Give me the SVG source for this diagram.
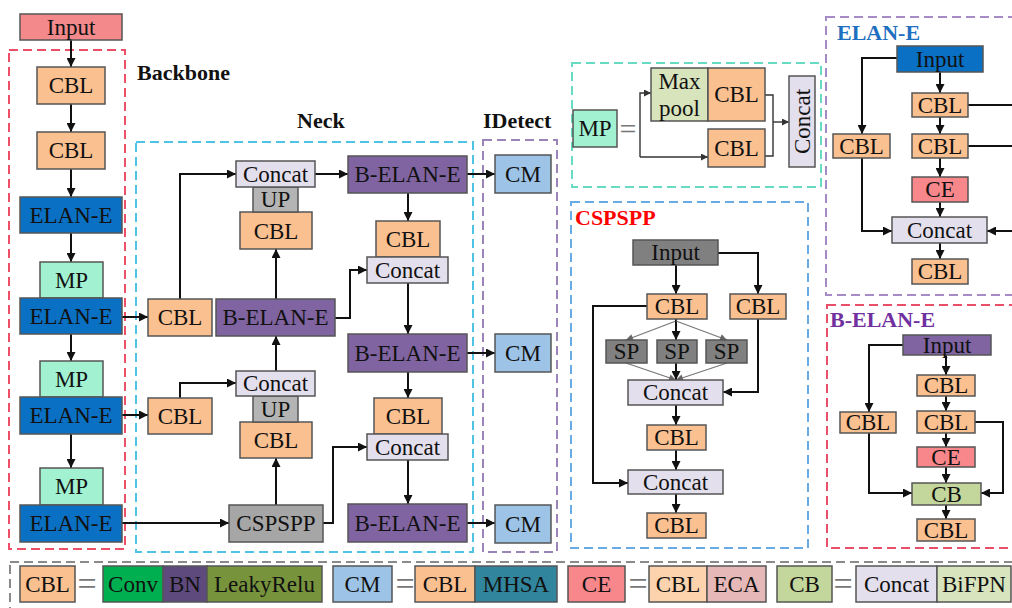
<svg xmlns="http://www.w3.org/2000/svg" width="1012" height="608" viewBox="0 0 1012 608">
<style>
text{font-family:"Liberation Serif","Times New Roman",serif;font-size:23px;fill:#111;text-anchor:middle;dominant-baseline:central}
.h{font-weight:bold;text-anchor:start;dominant-baseline:alphabetic;font-size:22px}
.n rect, #legend rect{stroke:#555;stroke-width:1.5}
.cbl{fill:#FAC090}.elan{fill:#0A70C4}.mp{fill:#A2F2D2}.in{fill:#F4898C}.bel{fill:#8064A2}
.cat{fill:#E4DFEC}.up{fill:#B4B4B4}.csp{fill:#A6A6A6}.cm{fill:#9DC3E6}.ce{fill:#F8878B}
.sp{fill:#808080}.cb{fill:#C3D69B}.mx{fill:#D8E4BC}
.box{fill:none;stroke-width:2;stroke-dasharray:9 5}
.c path{fill:none;stroke:#111;stroke-width:2}
.c .t{stroke-width:1.4;stroke:#333}
.c .g{stroke-width:1.2;stroke:#777}
.eq{fill:#777;font-size:34px}
</style>
<defs>
<marker id="a" viewBox="0 0 10 10" refX="10" refY="5" markerWidth="10" markerHeight="9" markerUnits="userSpaceOnUse" orient="auto"><path d="M0,0L10,5L0,10z" fill="#111"/></marker>
<marker id="s" viewBox="0 0 10 10" refX="10" refY="5" markerWidth="8" markerHeight="7" markerUnits="userSpaceOnUse" orient="auto"><path d="M0,0L10,5L0,10z" fill="#333"/></marker>
<marker id="g" viewBox="0 0 10 10" refX="10" refY="5" markerWidth="8" markerHeight="7" markerUnits="userSpaceOnUse" orient="auto"><path d="M0,0L10,5L0,10z" fill="#666"/></marker>
</defs>
<rect width="1012" height="608" fill="#fff"/>

<g id="frames">
<rect class="box" x="9" y="50" width="116" height="499" style="stroke:#EC4F66"/>
<rect class="box" x="136" y="142" width="337" height="410" style="stroke:#4EC3E3"/>
<rect class="box" x="483" y="140" width="74" height="412" style="stroke:#9B85B8"/>
<rect class="box" x="572" y="63" width="249" height="124" style="stroke:#66DBC2"/>
<rect class="box" x="571" y="202" width="237" height="346" style="stroke:#68AAE4"/>
<rect class="box" x="826" y="17" width="200" height="278" style="stroke:#A68BC6"/>
<rect class="box" x="827" y="305" width="200" height="243" style="stroke:#E8506A"/>
<rect class="box" x="10" y="562" width="1010" height="60" style="stroke:#8A8A8A"/>
</g>

<g id="labels">
<text class="h" x="137" y="80">Backbone</text>
<text class="h" x="297" y="128">Neck</text>
<text class="h" x="483" y="128">IDetect</text>
<text class="h" x="837" y="40" style="fill:#1F6FC0">ELAN-E</text>
<text class="h" x="575" y="225" style="fill:#FF0000">CSPSPP</text>
<text class="h" x="830" y="327" style="fill:#7030A0">B-ELAN-E</text>
</g>

<g id="connectors" class="c">
<path marker-end="url(#a)" d="M71,40V67"/>
<path marker-end="url(#a)" d="M71,104V132"/>
<path marker-end="url(#a)" d="M71,169V197"/>
<path marker-end="url(#a)" d="M71,233V262"/>
<path marker-end="url(#a)" d="M71,334V361"/>
<path marker-end="url(#a)" d="M71,434V468"/>
<path marker-end="url(#a)" d="M122,317H148"/>
<path marker-end="url(#a)" d="M122,415H148"/>
<path marker-end="url(#a)" d="M122,523H229"/>
<path marker-end="url(#a)" d="M180,299V174H236"/>
<path marker-end="url(#a)" d="M276,299V249"/>
<path marker-end="url(#a)" d="M315,174H348"/>
<path marker-end="url(#a)" d="M408,193V221"/>
<path marker-end="url(#a)" d="M335,318H350V270H367"/>
<path marker-end="url(#a)" d="M408,283V334"/>
<path marker-end="url(#a)" d="M408,372V398"/>
<path marker-end="url(#a)" d="M408,460V504"/>
<path marker-end="url(#a)" d="M180,398V383H236"/>
<path marker-end="url(#a)" d="M276,371V336"/>
<path marker-end="url(#a)" d="M276,505V458"/>
<path marker-end="url(#a)" d="M323,523H333V447H367"/>
<path marker-end="url(#a)" d="M467,174H495"/>
<path marker-end="url(#a)" d="M467,353H495"/>
<path marker-end="url(#a)" d="M467,523H495"/>
<path class="t" marker-end="url(#s)" d="M640,157V93H651"/>
<path class="t" marker-end="url(#s)" d="M640,157H708"/>
<path class="t" d="M765,95H773V156H765"/>
<path class="t" marker-end="url(#s)" d="M773,122H789"/>
<path marker-end="url(#a)" d="M676,265V294"/>
<path marker-end="url(#a)" d="M718,253H758V294"/>
<path class="g" marker-end="url(#g)" d="M676,321L626,340"/>
<path marker-end="url(#a)" d="M676,319V340"/>
<path class="g" marker-end="url(#g)" d="M676,321L727,340"/>
<path class="g" marker-end="url(#g)" d="M626,363L676,380"/>
<path marker-end="url(#a)" d="M676,363V380"/>
<path class="g" marker-end="url(#g)" d="M727,363L676,380"/>
<path marker-end="url(#a)" d="M758,319V392H723"/>
<path marker-end="url(#a)" d="M676,405V425"/>
<path marker-end="url(#a)" d="M676,450V470"/>
<path marker-end="url(#a)" d="M676,494V513"/>
<path marker-end="url(#a)" d="M647,306H593V483H628"/>
<path marker-end="url(#a)" d="M940,72V93"/>
<path marker-end="url(#a)" d="M940,117V134"/>
<path marker-end="url(#a)" d="M940,158V177"/>
<path marker-end="url(#a)" d="M940,202V217"/>
<path marker-end="url(#a)" d="M940,243V259"/>
<path marker-end="url(#a)" d="M897,58H862V134"/>
<path marker-end="url(#a)" d="M862,158V231H892"/>
<path d="M968,105H1020"/>
<path d="M968,146H1020"/>
<path marker-end="url(#a)" d="M1020,231H987"/>
<path marker-end="url(#a)" d="M946,355V375"/>
<path marker-end="url(#a)" d="M946,396V411"/>
<path marker-end="url(#a)" d="M946,433V447"/>
<path marker-end="url(#a)" d="M946,467V483"/>
<path marker-end="url(#a)" d="M946,505V519"/>
<path marker-end="url(#a)" d="M903,345H869V412"/>
<path marker-end="url(#a)" d="M869,433V493H912"/>
<path marker-end="url(#a)" d="M975,422H1003V493H981"/>
</g>

<g id="bb-input" class="n"><rect class="in" x="20" y="14" width="102" height="26"/><text x="71" y="27">Input</text></g>
<g id="bb-cbl1" class="n"><rect class="cbl" x="37" y="67" width="68" height="37"/><text x="71" y="85.5">CBL</text></g>
<g id="bb-cbl2" class="n"><rect class="cbl" x="37" y="132" width="68" height="37"/><text x="71" y="150.5">CBL</text></g>
<g id="bb-elan1" class="n"><rect class="elan" x="20" y="197" width="102" height="36"/><text x="71" y="215">ELAN-E</text></g>
<g id="bb-mp1" class="n"><rect class="mp" x="40" y="262" width="63" height="36"/><text x="71.5" y="280">MP</text></g>
<g id="bb-elan2" class="n"><rect class="elan" x="20" y="298" width="102" height="36"/><text x="71" y="316">ELAN-E</text></g>
<g id="bb-mp2" class="n"><rect class="mp" x="40" y="361" width="63" height="36"/><text x="71.5" y="379">MP</text></g>
<g id="bb-elan3" class="n"><rect class="elan" x="20" y="397" width="102" height="37"/><text x="71" y="415.5">ELAN-E</text></g>
<g id="bb-mp3" class="n"><rect class="mp" x="40" y="468" width="63" height="37"/><text x="71.5" y="486.5">MP</text></g>
<g id="bb-elan4" class="n"><rect class="elan" x="20" y="505" width="102" height="37"/><text x="71" y="523.5">ELAN-E</text></g>

<g id="n-cbl1" class="n"><rect class="cbl" x="148" y="299" width="64" height="37"/><text x="180" y="317.5">CBL</text></g>
<g id="n-belan-l" class="n"><rect class="bel" x="216" y="299" width="119" height="37"/><text x="275.5" y="317.5">B-ELAN-E</text></g>
<g id="n-cbl2" class="n"><rect class="cbl" x="148" y="398" width="64" height="36"/><text x="180" y="416">CBL</text></g>
<g id="n-csp" class="n"><rect class="csp" x="229" y="505" width="94" height="37"/><text x="276" y="523.5">CSPSPP</text></g>
<g id="n-cbl-up1" class="n"><rect class="cbl" x="240" y="212" width="72" height="37"/><text x="276" y="231">CBL</text></g>
<g id="n-up1" class="n"><rect class="up" x="253" y="187" width="45" height="25"/><text x="275.5" y="199.5">UP</text></g>
<g id="n-cat1" class="n"><rect class="cat" x="236" y="161" width="79" height="26"/><text x="275.5" y="174">Concat</text></g>
<g id="n-cbl-up2" class="n"><rect class="cbl" x="240" y="422" width="72" height="36"/><text x="276" y="440">CBL</text></g>
<g id="n-up2" class="n"><rect class="up" x="253" y="396" width="45" height="26"/><text x="275.5" y="409">UP</text></g>
<g id="n-cat2" class="n"><rect class="cat" x="236" y="371" width="79" height="25"/><text x="275.5" y="383.5">Concat</text></g>
<g id="n-belan-t" class="n"><rect class="bel" x="348" y="156" width="119" height="37"/><text x="407.5" y="174.5">B-ELAN-E</text></g>
<g id="n-cbl-r1" class="n"><rect class="cbl" x="376" y="221" width="64" height="36"/><text x="408" y="239">CBL</text></g>
<g id="n-cat-r1" class="n"><rect class="cat" x="367" y="257" width="81" height="26"/><text x="407.5" y="270">Concat</text></g>
<g id="n-belan-m" class="n"><rect class="bel" x="348" y="334" width="119" height="38"/><text x="407.5" y="353">B-ELAN-E</text></g>
<g id="n-cbl-r2" class="n"><rect class="cbl" x="374" y="398" width="68" height="36"/><text x="408" y="416">CBL</text></g>
<g id="n-cat-r2" class="n"><rect class="cat" x="367" y="434" width="81" height="26"/><text x="407.5" y="447">Concat</text></g>
<g id="n-belan-b" class="n"><rect class="bel" x="348" y="504" width="119" height="38"/><text x="407.5" y="523">B-ELAN-E</text></g>

<g id="cm1" class="n"><rect class="cm" x="495" y="155" width="56" height="38"/><text x="523" y="174">CM</text></g>
<g id="cm2" class="n"><rect class="cm" x="495" y="334" width="56" height="38"/><text x="523" y="353">CM</text></g>
<g id="cm3" class="n"><rect class="cm" x="495" y="505" width="56" height="38"/><text x="523" y="524">CM</text></g>

<g id="mp-def" class="n"><rect class="mp" x="573" y="110" width="44" height="37"/><text x="595" y="128.5">MP</text></g>
<text class="eq" x="628" y="128" style="font-size:30px">=</text>
<g id="mp-maxpool" class="n"><rect class="mx" x="651" y="68" width="57" height="53"/><text x="679.5" y="81">Max</text><text x="679.5" y="108">pool</text></g>
<g id="mp-cbl1" class="n"><rect class="cbl" x="708" y="68" width="57" height="53"/><text x="736.5" y="94.5">CBL</text></g>
<g id="mp-cbl2" class="n"><rect class="cbl" x="708" y="129" width="57" height="38"/><text x="736.5" y="148">CBL</text></g>
<g id="mp-concat" class="n"><rect class="cat" x="789" y="76" width="26" height="91"/><text transform="translate(802,121.5) rotate(-90)" x="0" y="0">Concat</text></g>

<g id="s-input" class="n"><rect class="sp" x="633" y="240" width="85" height="25"/><text x="675.5" y="252.5">Input</text></g>
<g id="s-cbl-a" class="n"><rect class="cbl" x="647" y="294" width="60" height="25"/><text x="677" y="306.5">CBL</text></g>
<g id="s-cbl-b" class="n"><rect class="cbl" x="730" y="294" width="56" height="25"/><text x="758" y="306.5">CBL</text></g>
<g id="s-sp1" class="n"><rect class="sp" x="606" y="340" width="41" height="23"/><text x="626.5" y="351.5">SP</text></g>
<g id="s-sp2" class="n"><rect class="sp" x="657" y="340" width="40" height="23"/><text x="677" y="351.5">SP</text></g>
<g id="s-sp3" class="n"><rect class="sp" x="706" y="340" width="41" height="23"/><text x="726.5" y="351.5">SP</text></g>
<g id="s-cat1" class="n"><rect class="cat" x="628" y="380" width="95" height="25"/><text x="675.5" y="392.5">Concat</text></g>
<g id="s-cbl-c" class="n"><rect class="cbl" x="647" y="425" width="59" height="25"/><text x="676.5" y="437.5">CBL</text></g>
<g id="s-cat2" class="n"><rect class="cat" x="628" y="470" width="95" height="24"/><text x="675.5" y="482">Concat</text></g>
<g id="s-cbl-d" class="n"><rect class="cbl" x="647" y="513" width="59" height="25"/><text x="676.5" y="525.5">CBL</text></g>

<g id="e-input" class="n"><rect class="elan" x="897" y="46" width="86" height="26"/><text x="940" y="59">Input</text></g>
<g id="e-cbl1" class="n"><rect class="cbl" x="912" y="93" width="56" height="24"/><text x="940" y="105">CBL</text></g>
<g id="e-cbl2" class="n"><rect class="cbl" x="912" y="134" width="56" height="24"/><text x="940" y="146">CBL</text></g>
<g id="e-ce" class="n"><rect class="ce" x="912" y="177" width="56" height="25"/><text x="940" y="189.5">CE</text></g>
<g id="e-cat" class="n"><rect class="cat" x="892" y="217" width="95" height="26"/><text x="939.5" y="230">Concat</text></g>
<g id="e-cbl3" class="n"><rect class="cbl" x="912" y="259" width="56" height="25"/><text x="940" y="271.5">CBL</text></g>
<g id="e-cbl-l" class="n"><rect class="cbl" x="833" y="134" width="57" height="24"/><text x="861.5" y="146">CBL</text></g>

<g id="b-input" class="n"><rect class="bel" x="903" y="335" width="88" height="20"/><text x="947" y="345">Input</text></g>
<g id="b-cbl1" class="n"><rect class="cbl" x="917" y="375" width="58" height="21"/><text x="946" y="385.5">CBL</text></g>
<g id="b-cbl2" class="n"><rect class="cbl" x="917" y="411" width="58" height="22"/><text x="946" y="422">CBL</text></g>
<g id="b-ce" class="n"><rect class="ce" x="917" y="447" width="58" height="20"/><text x="946" y="457">CE</text></g>
<g id="b-cb" class="n"><rect class="cb" x="912" y="483" width="69" height="22"/><text x="946.5" y="494">CB</text></g>
<g id="b-cbl3" class="n"><rect class="cbl" x="917" y="519" width="58" height="22"/><text x="946" y="530">CBL</text></g>
<g id="b-cbl-l" class="n"><rect class="cbl" x="840" y="412" width="56" height="21"/><text x="868" y="422.5">CBL</text></g>

<g id="legend">
<rect class="cbl" x="20" y="566" width="55" height="36"/><text x="47.5" y="584">CBL</text>
<text class="eq" x="87" y="583">=</text>
<rect x="103" y="566" width="60" height="36" style="fill:#00B050"/><text x="133" y="584">Conv</text>
<rect x="163" y="566" width="44" height="36" style="fill:#5F4A7E"/><text x="185" y="584">BN</text>
<rect x="207" y="566" width="115" height="36" style="fill:#77933C"/><text x="264.5" y="584">LeakyRelu</text>
<rect class="cm" x="333" y="566" width="59" height="36"/><text x="362.5" y="584">CM</text>
<text class="eq" x="405" y="583">=</text>
<rect class="cbl" x="415" y="566" width="60" height="36"/><text x="445" y="584">CBL</text>
<rect x="475" y="566" width="82" height="36" style="fill:#31859C"/><text x="516" y="584">MHSA</text>
<rect class="ce" x="568" y="566" width="57" height="36"/><text x="596.5" y="584">CE</text>
<text class="eq" x="638" y="583">=</text>
<rect x="649" y="566" width="58" height="36" style="fill:#FCD3AC"/><text x="678" y="584">CBL</text>
<rect x="707" y="566" width="59" height="36" style="fill:#E6B9B8"/><text x="736.5" y="584">ECA</text>
<rect class="cb" x="777" y="566" width="55" height="36"/><text x="804.5" y="584">CB</text>
<text class="eq" x="843" y="583">=</text>
<rect class="cat" x="856" y="566" width="81" height="36"/><text x="896.5" y="584">Concat</text>
<rect x="937" y="566" width="74" height="36" style="fill:#D7E4BD"/><text x="974" y="584">BiFPN</text>
</g>
</svg>
